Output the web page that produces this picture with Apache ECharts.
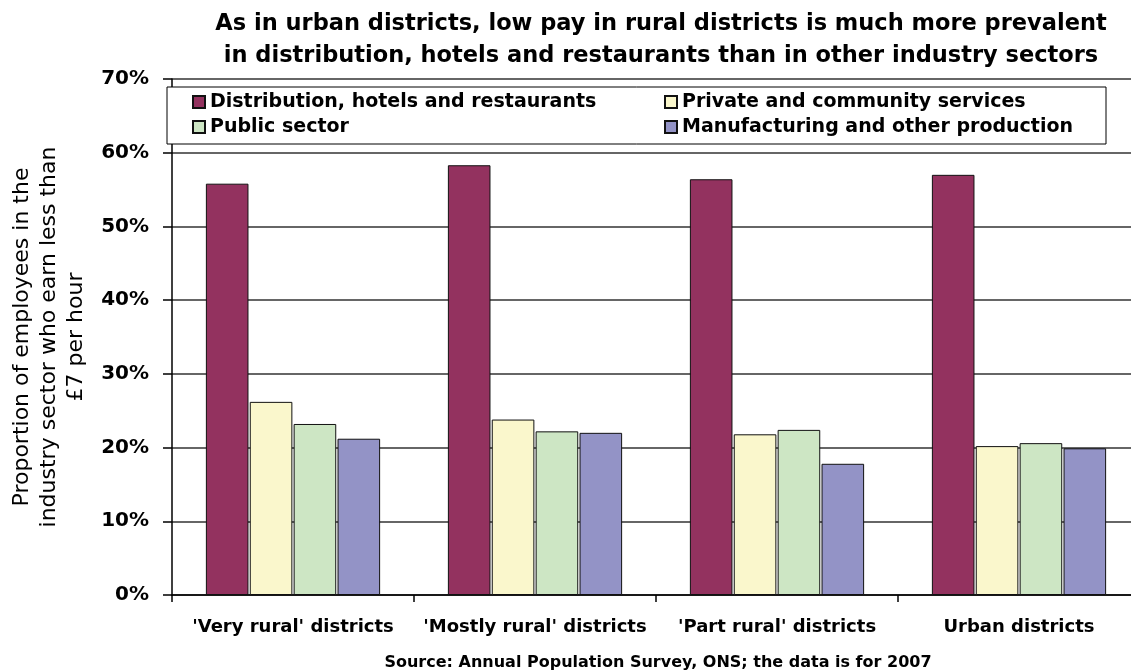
<!DOCTYPE html>
<html>
<head>
<meta charset="utf-8">
<script src="https://cdn.jsdelivr.net/npm/echarts@6/dist/echarts.min.js"></script>
<style>html,body{margin:0;padding:0;background:#fff}#c{width:1131px;height:671px}</style>
</head>
<body>
<div id="c"></div>
<script>
const categories = ["'Very rural' districts", "'Mostly rural' districts", "'Part rural' districts", "Urban districts"];
const distribution = [55.8, 58.3, 56.4, 57.0];
const privateCommunity = [26.2, 23.8, 21.8, 20.2];
const publicSector = [23.2, 22.2, 22.4, 20.6];
const manufacturing = [21.2, 22.0, 17.8, 19.9];
const seriesNames = ["Distribution, hotels and restaurants", "Private and community services", "Public sector", "Manufacturing and other production"];
const colors = ['#93325F', '#FAF7CC', '#CDE6C4', '#9393C6'];
const yTicks = {min: 0, max: 70, interval: 10};

const FONT = '"DejaVu Sans", "Liberation Sans", Arial, sans-serif';
const chart = echarts.init(document.getElementById('c'));
const data = [distribution, privateCommunity, publicSector, manufacturing];
chart.setOption({
  animation: false,
  backgroundColor: '#fff',
  title: [{
    text: 'As in urban districts, low pay in rural districts is much more prevalent\nin distribution, hotels and restaurants than in other industry sectors',
    left: 656, top: 3, textAlign: 'center',
    textStyle: {fontFamily: FONT, fontWeight: 'bold', fontSize: 22.5, lineHeight: 32, color: '#000'}
  }, {
    text: 'Source: Annual Population Survey, ONS; the data is for 2007',
    left: 653, top: 650, textAlign: 'center',
    textStyle: {fontFamily: FONT, fontWeight: 'bold', fontSize: 16, color: '#000'}
  }],
  graphic: [{
    type: 'rect', z: 5,
    shape: {x: 167, y: 87, width: 939, height: 57},
    style: {fill: '#fff', stroke: '#000', lineWidth: 1}
  }],
  legend: [{
    data: [seriesNames[0], seriesNames[2]],
    orient: 'vertical', left: 192, top: 92, z: 10, padding: 0,
    itemWidth: 12, itemHeight: 12, itemGap: 5, icon: 'rect',
    textStyle: {fontFamily: FONT, fontWeight: 'bold', fontSize: 19, lineHeight: 20, color: '#000'}
  }, {
    data: [seriesNames[1], seriesNames[3]],
    orient: 'vertical', left: 664, top: 92, z: 10, padding: 0,
    itemWidth: 12, itemHeight: 12, itemGap: 5, icon: 'rect',
    textStyle: {fontFamily: FONT, fontWeight: 'bold', fontSize: 19, lineHeight: 20, color: '#000'}
  }],
  grid: {left: 172, top: 79, bottom: 76, width: 968, containLabel: false, outerBoundsMode: 'none'},
  xAxis: {
    type: 'category', data: categories,
    axisLine: {lineStyle: {color: '#000', width: 1.5}},
    axisTick: {show: true, length: 7, lineStyle: {color: '#000', width: 1.5}},
    axisLabel: {interval: 0, fontFamily: FONT, fontWeight: 'bold', fontSize: 18, color: '#000', margin: 23}
  },
  yAxis: {
    type: 'value', min: yTicks.min, max: yTicks.max, interval: yTicks.interval,
    name: 'Proportion of employees in the\nindustry sector who earn less than\n£7 per hour',
    nameLocation: 'middle', nameRotate: 90, nameGap: 75,
    nameTextStyle: {fontFamily: FONT, fontSize: 22, lineHeight: 27, color: '#000', align: 'center'},
    axisLine: {show: true, lineStyle: {color: '#000', width: 1.5}},
    axisTick: {show: true, length: 9, lineStyle: {color: '#000', width: 1.5}},
    axisLabel: {formatter: '{value}%', fontFamily: FONT, fontWeight: 'bold', fontSize: 20, color: '#000', margin: 23},
    splitLine: {lineStyle: {color: '#333', width: 1.5}}
  },
  series: data.map((d, i) => ({
    name: seriesNames[i], type: 'bar', data: d,
    barGap: '3%', barCategoryGap: '28%',
    itemStyle: {color: colors[i], borderColor: '#111', borderWidth: 1}
  }))
});
</script>
</body>
</html>
